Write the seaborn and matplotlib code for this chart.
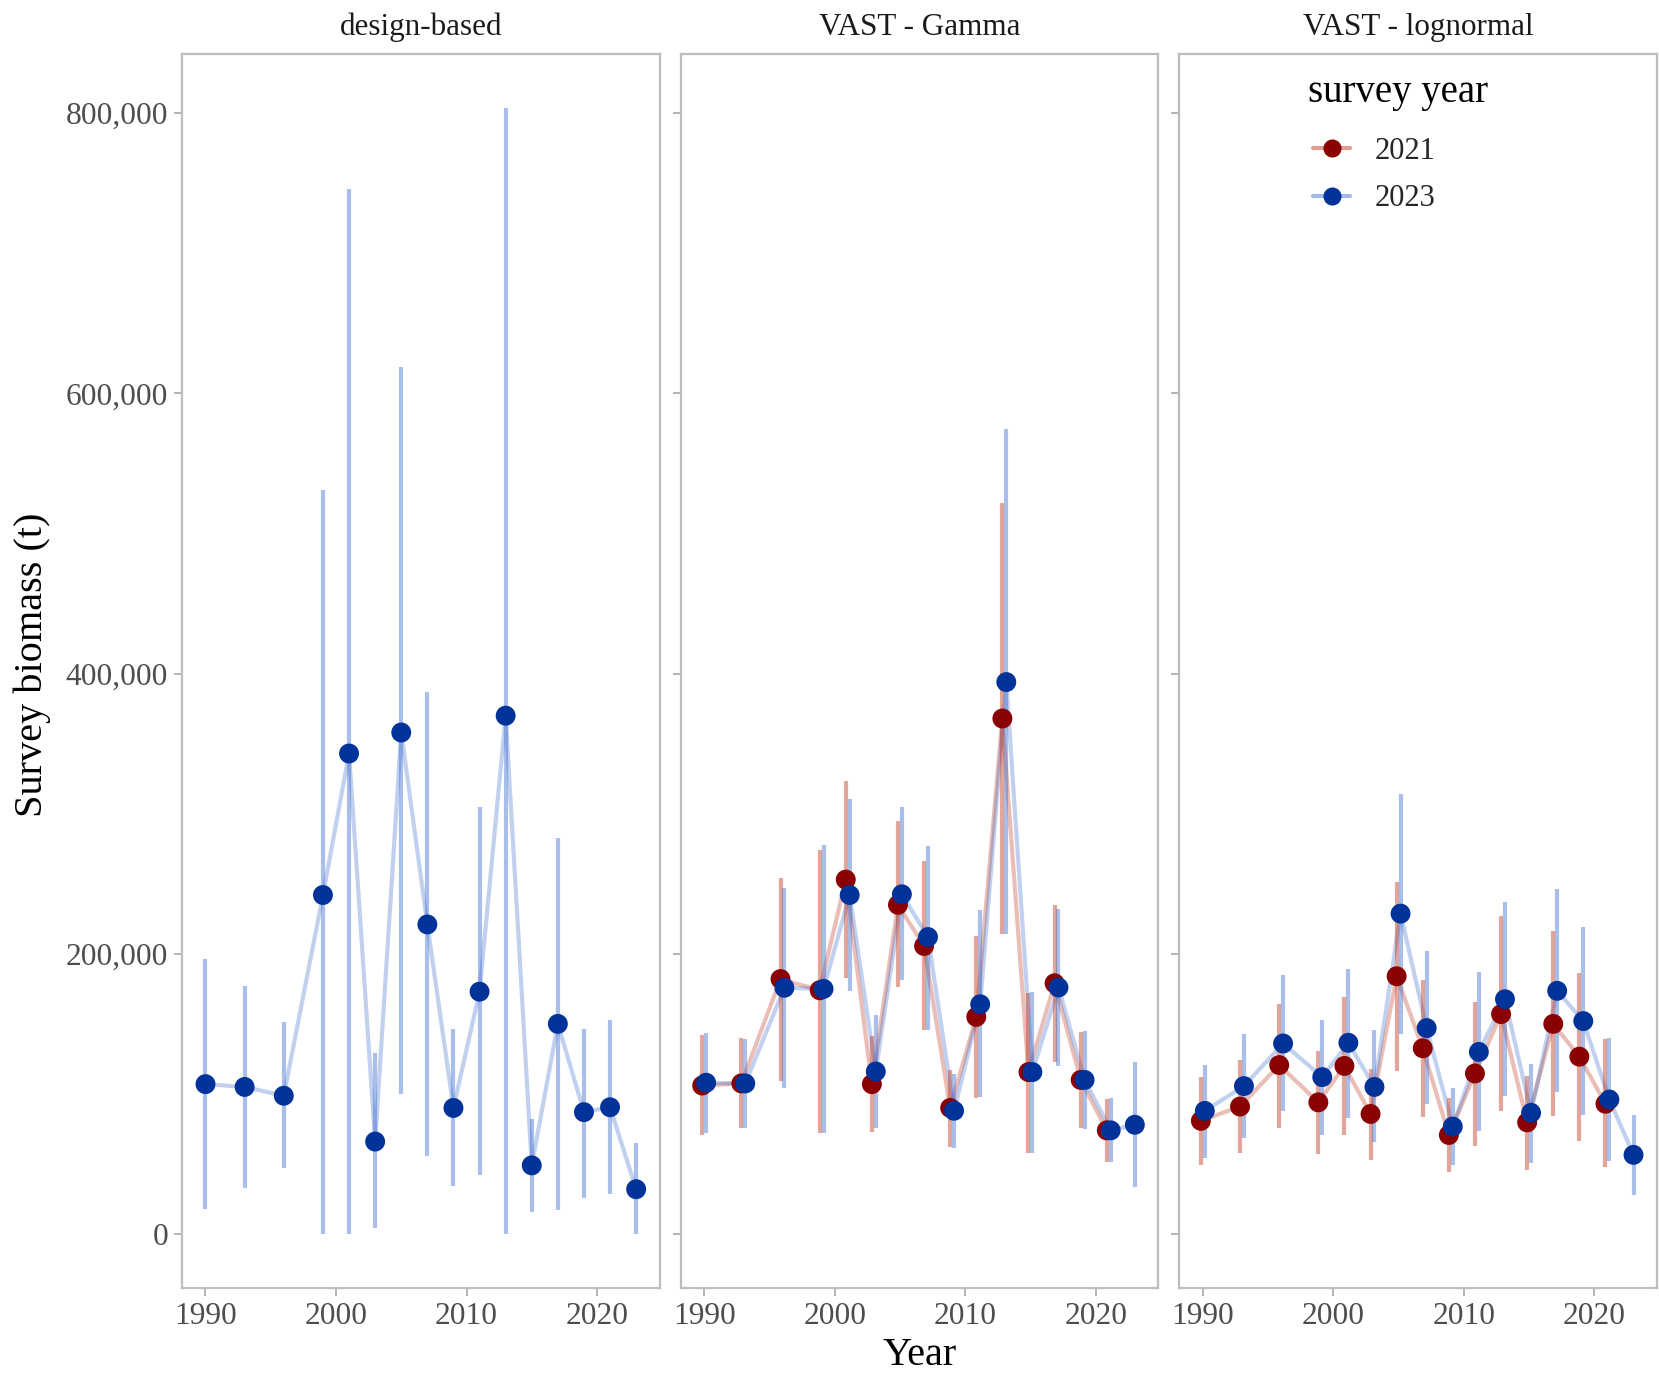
import numpy as np
import pandas as pd
import seaborn as sns
import matplotlib.pyplot as plt
from matplotlib.ticker import FuncFormatter
from matplotlib.lines import Line2D
from matplotlib.colors import to_rgba

# ---- survey biomass estimates (t) with interval bounds ----
years_2021 = [1990, 1993, 1996, 1999, 2001, 2003, 2005, 2007, 2009, 2011,
              2013, 2015, 2017, 2019, 2021]
years_2023 = years_2021 + [2023]

db_est = [107000, 105000, 98700, 242000, 343000, 66000, 358000, 221000, 90000,
          173000, 370000, 49000, 150000, 87000, 90500, 32000]
db_lo = [18000, 33000, 47000, 0, 0, 4000, 100000, 56000, 34000, 42000, 0,
         16000, 17500, 26000, 28700, 0]
db_hi = [196000, 177000, 151000, 531000, 746000, 129000, 619000, 387000,
         146500, 305000, 804000, 82000, 283000, 146500, 153000, 65000]

gam21_est = [106000, 107500, 182000, 174000, 253000, 107000, 235000, 205600,
             90000, 155000, 368000, 115600, 179000, 110000, 74000]
gam21_lo = [71000, 76000, 109000, 72000, 182600, 73000, 176000, 145700, 62000,
            97000, 214500, 57800, 123000, 75600, 51500]
gam21_hi = [142000, 140000, 254000, 274000, 323700, 141000, 295000, 266000,
            117000, 213000, 521600, 172000, 234900, 144000, 96600]

gam23_est = [108000, 107500, 175800, 175000, 242000, 116000, 242500, 212000,
             88000, 164000, 394000, 115600, 176000, 110000, 74000, 78000]
gam23_lo = [71800, 75600, 104000, 72000, 173700, 76000, 181000, 145700, 61600,
            97800, 214500, 57800, 120000, 75000, 51500, 33600]
gam23_hi = [143700, 139000, 246800, 278000, 310700, 156000, 305000, 277000,
            114000, 231000, 574600, 173000, 232000, 145000, 97000, 122800]

logn21_est = [80800, 91000, 120600, 94000, 120000, 85700, 184000, 132600, 70700,
              114600, 157000, 79700, 150000, 126600, 93000]
logn21_lo = [49000, 58000, 76000, 57000, 70700, 53000, 116500, 83800, 44000,
             63000, 88000, 45600, 84600, 66600, 47500]
logn21_hi = [112000, 124000, 164000, 131000, 169000, 118000, 251000, 181500,
             97000, 165700, 227000, 113000, 216000, 186000, 139000]

logn23_est = [87900, 105600, 136000, 112000, 136500, 105000, 228700, 147000,
              76700, 130000, 167600, 86500, 173600, 152000, 96000, 56500]
logn23_lo = [54000, 68800, 87900, 70700, 83000, 65500, 143000, 93000, 49000,
             73700, 98800, 51000, 101500, 85000, 52000, 27800]
logn23_hi = [121000, 142500, 184800, 153000, 189400, 145700, 314000, 201700,
             104000, 186700, 237000, 121500, 246000, 219000, 139700, 85000]

models = ["design-based", "VAST - Gamma", "VAST - lognormal"]
surveys = ["2021", "2023"]

# ---- long table ----
frames = [
    pd.DataFrame(dict(model=models[0], survey="2023", year=years_2023,
                      biomass=db_est, lo=db_lo, hi=db_hi)),
    pd.DataFrame(dict(model=models[1], survey="2021", year=years_2021,
                      biomass=gam21_est, lo=gam21_lo, hi=gam21_hi)),
    pd.DataFrame(dict(model=models[1], survey="2023", year=years_2023,
                      biomass=gam23_est, lo=gam23_lo, hi=gam23_hi)),
    pd.DataFrame(dict(model=models[2], survey="2021", year=years_2021,
                      biomass=logn21_est, lo=logn21_lo, hi=logn21_hi)),
    pd.DataFrame(dict(model=models[2], survey="2023", year=years_2023,
                      biomass=logn23_est, lo=logn23_lo, hi=logn23_hi)),
]
df = pd.concat(frames, ignore_index=True)

# dodge the two survey years side by side where both are present
dodge = 0.15
n_groups = df.groupby(["model", "year"])["survey"].transform("nunique")
offset = np.where(df["survey"] == "2021", -dodge, dodge)
df["xpos"] = df["year"] + np.where(n_groups > 1, offset, 0.0)

# ---- styling ----
sns.set_theme(style="white")
plt.rcParams["font.family"] = ["Liberation Serif", "DejaVu Serif"]

point_pal = {"2021": "#8B0000", "2023": "#00339A"}
band_pal = {"2021": "#BB2A10", "2023": "#3366CC"}
line_alpha = 0.3
bar_alpha = 0.42

fig, axes = plt.subplots(1, 3, figsize=(16.59, 13.75), dpi=100,
                         sharex=True, sharey=True)
fig.subplots_adjust(left=0.1097, right=0.9988, bottom=0.0633, top=0.9607,
                    wspace=0.044)

comma = FuncFormatter(lambda v, _: f"{int(round(v)):,}")

for ax, model in zip(axes, models):
    sub = df[df["model"] == model].sort_values(["survey", "xpos"])
    order = [s for s in surveys if s in set(sub["survey"])]

    sns.lineplot(data=sub, x="xpos", y="biomass", hue="survey",
                 hue_order=order, palette=band_pal, estimator=None,
                 linewidth=3.0, alpha=line_alpha, legend=False, ax=ax,
                 zorder=1)

    for s in order:
        g = sub[sub["survey"] == s]
        ax.vlines(g["xpos"], g["lo"], g["hi"], color=band_pal[s],
                  alpha=bar_alpha, linewidth=3.0, zorder=2)

    sns.scatterplot(data=sub, x="xpos", y="biomass", hue="survey",
                    hue_order=order, palette=point_pal, s=205,
                    edgecolor="none", linewidth=0, legend=False, ax=ax,
                    zorder=3)

    ax.set_xlim(1988.2, 2024.8)
    ax.set_ylim(-38500, 842300)
    ax.set_xticks([1990, 2000, 2010, 2020])
    ax.set_yticks([0, 200000, 400000, 600000, 800000])
    ax.yaxis.set_major_formatter(comma)
    ax.set_xlabel("")
    ax.set_ylabel("")
    ax.tick_params(axis="both", which="major", labelsize=22.7,
                   labelcolor="#4D4D4D", color="#B3B3B3", length=6,
                   width=1.4, pad=4, left=True, bottom=True)
    for sp in ax.spines.values():
        sp.set_visible(True)
        sp.set_color("#BDBDBD")
        sp.set_linewidth(1.6)
    ax.grid(False)
    ax.text(0.5, 1 + 27 / 1234, model, transform=ax.transAxes, ha="center",
            va="center", fontsize=22.4, color="#1A1A1A")

fig.text(920 / 1659, 1 - 1365 / 1375, "Year", ha="center", va="baseline",
         fontsize=29, color="black")
fig.text(32 / 1659, 1 - 665 / 1375, "Survey biomass (t)", ha="center",
         va="center", rotation=90, fontsize=29, color="black")

# legend: faded line key with an opaque point on top
handles = [
    Line2D([0], [0], color=to_rgba(band_pal[s], 0.45), linewidth=3.0,
           marker="o", markersize=12, markerfacecolor=point_pal[s],
           markeredgecolor=point_pal[s])
    for s in surveys
]
ax3 = axes[2]
pw, ph = 478.0, 1234.0
ax3.text((1310 - 1181) / pw, 1 - (92 - 54) / ph, "survey year",
         transform=ax3.transAxes, ha="left", va="center", fontsize=28,
         color="black")
ax3.legend(handles=handles, labels=surveys, loc="upper left",
           bbox_to_anchor=((1315 - 1181) / pw, 1 - (137 - 54) / ph),
           frameon=False, fontsize=22, handlelength=1.21,
           handletextpad=0.8, labelspacing=0.6, borderpad=0,
           borderaxespad=0)

fig.savefig("out.png", dpi=100)
